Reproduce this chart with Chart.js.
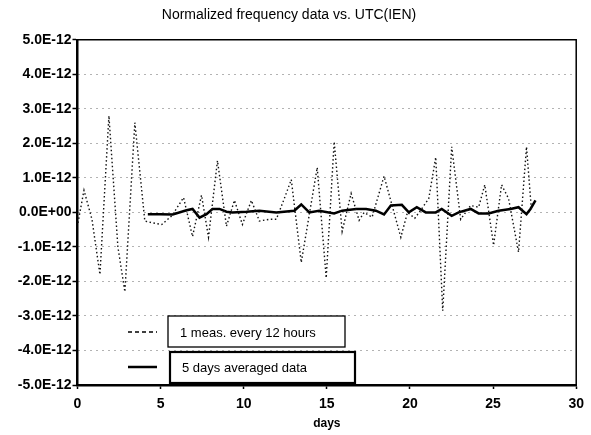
<!DOCTYPE html>
<html>
<head>
<meta charset="utf-8">
<script src="https://cdn.jsdelivr.net/npm/chart.js@4.4.0/dist/chart.umd.min.js"></script>
<style>
    html, body { margin: 0; padding: 0; background: #fff; }
    #wrap { width: 591px; height: 435px; }
</style>
</head>
<body>
<div id="wrap"><canvas id="freqChart" width="591" height="435"></canvas></div>
<script>
// values are in units of 1E-12
const measDays = [0.03, 0.39, 0.87, 1.35, 1.89, 2.43, 2.85, 3.45, 4.05, 4.47, 5.07, 5.67, 6.38, 6.92, 7.46, 7.88,
    8.42, 8.96, 9.44, 9.92, 10.46, 10.94, 11.54, 11.96, 12.44, 12.86, 13.46, 14.42, 14.96, 15.44, 15.92, 16.46,
    16.94, 17.24, 17.72, 18.44, 19.45, 19.85, 20.29, 20.7, 21.13, 21.55, 21.97, 22.51, 23.05, 23.65, 24.13, 24.5,
    25.03, 25.51, 25.93, 26.53, 27.01, 27.31];
const measValues = [-0.3, 0.64, -0.2, -1.8, 2.8, -1.0, -2.3, 2.6, -0.25, -0.3, -0.35, -0.1, 0.43, -0.7, 0.5, -0.72,
    1.5, -0.4, 0.35, -0.35, 0.35, -0.25, -0.2, -0.2, 0.4, 0.95, -1.45, 1.3, -1.9, 2.05, -0.55, 0.55,
    -0.23, 0.0, -0.14, 1.05, -0.72, 0.0, -0.17, 0.1, 0.4, 1.6, -2.85, 1.9, -0.2, 0.2, 0.15, 0.8,
    -0.95, 0.8, 0.4, -1.15, 1.9, 0.05];

const avgDays = [4.23, 4.95, 5.73, 6.56, 6.92, 7.34, 7.76, 8.12, 8.54, 8.96, 9.32, 10.16, 10.94, 11.96, 13.04, 13.46,
    13.94, 14.54, 15.44, 15.92, 16.76, 17.36, 17.95, 18.44, 18.85, 19.51, 19.93, 20.41, 20.95, 21.55, 21.91, 22.51,
    22.93, 23.65, 24.13, 24.73, 25.33, 26.05, 26.53, 27.01, 27.25, 27.55];
const avgValues = [-0.05, -0.05, -0.06, 0.06, 0.1, -0.15, -0.05, 0.1, 0.1, 0.02, 0.0, 0.02, 0.05, 0.0, 0.05, 0.23,
    0.0, 0.05, -0.03, 0.05, 0.1, 0.1, 0.05, -0.06, 0.2, 0.22, 0.0, 0.15, 0.0, 0.0, 0.1, -0.1,
    0.0, 0.1, -0.03, -0.03, 0.05, 0.1, 0.15, -0.05, 0.1, 0.35];

const seriesLabels = ["1 meas. every 12 hours", "5 days averaged data"];
const xTicks = [0, 5, 10, 15, 20, 25, 30];
const yTicks = [5, 4, 3, 2, 1, 0, -1, -2, -3, -4, -5];

const FONT = "'Liberation Sans', Arial, sans-serif";

function toPoints(xs, ys) {
    return xs.map(function (x, i) { return {x: x, y: ys[i]}; });
}

function formatE(v) {
    if (v === 0) return "0.0E+00";
    return v.toFixed(1) + "E-12";
}

// frame round the plot + boxed legend inside it
const framePlugin = {
    id: "frame",
    afterDatasetsDraw(chart) {
        const ctx = chart.ctx;
        const a = chart.chartArea;
        ctx.save();
        ctx.strokeStyle = "#000";
        ctx.lineWidth = 1.5;
        ctx.beginPath();
        ctx.moveTo(a.left, a.top);
        ctx.lineTo(a.right, a.top);
        ctx.lineTo(a.right, a.bottom);
        ctx.stroke();

        const rows = [
            {y: 332, box: [168, 316, 177, 31], dash: [4, 3], width: 1.3, bw: 1.3},
            {y: 367, box: [170, 352, 185, 31], dash: [], width: 2.5, bw: 2.2},
        ];
        ctx.font = "13px " + FONT;
        ctx.textBaseline = "middle";
        rows.forEach(function (r, i) {
            ctx.lineWidth = r.width;
            ctx.setLineDash(r.dash);
            ctx.beginPath();
            ctx.moveTo(128, r.y);
            ctx.lineTo(157, r.y);
            ctx.stroke();
            ctx.setLineDash([]);
            ctx.lineWidth = r.bw;
            ctx.fillStyle = "#fff";
            ctx.fillRect(r.box[0], r.box[1], r.box[2], r.box[3]);
            ctx.strokeRect(r.box[0], r.box[1], r.box[2], r.box[3]);
            ctx.fillStyle = "#000";
            ctx.fillText(chart.data.datasets[i].label, r.box[0] + 12, r.y + 1);
        });
        ctx.restore();
    }
};

document.addEventListener("DOMContentLoaded", function () {
    const ctx = document.getElementById("freqChart").getContext("2d");
    new Chart(ctx, {
        type: "line",
        data: {
            datasets: [
                {
                    label: seriesLabels[0],
                    data: toPoints(measDays, measValues),
                    borderColor: "#111",
                    borderWidth: 1.4,
                    borderDash: [1.5, 2.5],
                    pointRadius: 0,
                    tension: 0,
                },
                {
                    label: seriesLabels[1],
                    data: toPoints(avgDays, avgValues),
                    borderColor: "#000",
                    borderWidth: 2.5,
                    pointRadius: 0,
                    tension: 0,
                },
            ],
        },
        options: {
            responsive: false,
            animation: false,
            layout: {padding: {left: 0, right: 13, top: 0, bottom: 0}},
            plugins: {
                legend: {display: false},
                tooltip: {enabled: false},
                title: {
                    display: true,
                    text: "Normalized frequency data vs. UTC(IEN)",
                    color: "#000",
                    font: {family: FONT, size: 14, weight: "normal"},
                    padding: {top: 7, bottom: 16},
                },
            },
            scales: {
                x: {
                    type: "linear",
                    min: 0,
                    max: 30,
                    afterBuildTicks: function (s) {
                        s.ticks = xTicks.map(function (v) { return {value: v}; });
                    },
                    afterFit: function (s) { s.height = 50; },
                    grid: {drawOnChartArea: false, drawTicks: true, tickLength: 4, tickColor: "#000", tickWidth: 1.5},
                    border: {color: "#000", width: 2.5},
                    ticks: {color: "#000", padding: 7, maxRotation: 0, font: {family: FONT, size: 14, weight: "bold"}},
                    title: {
                        display: true,
                        text: "days",
                        color: "#000",
                        font: {family: FONT, size: 12, weight: "bold"},
                        padding: {top: 0, bottom: 4},
                    },
                },
                y: {
                    min: -5,
                    max: 5,
                    afterBuildTicks: function (s) {
                        s.ticks = yTicks.map(function (v) { return {value: v}; });
                    },
                    afterFit: function (s) { s.width = 77.5; },
                    grid: {
                        color: function (c) {
                            return (c.tick && Math.abs(c.tick.value) === 5) ? "rgba(0,0,0,0)" : "#666";
                        },
                        lineWidth: 1,
                        tickLength: 5,
                        tickColor: "#000",
                        tickWidth: 1.5,
                    },
                    border: {color: "#000", width: 2.5, dash: [1, 5]},
                    ticks: {
                        color: "#000",
                        padding: 1,
                        font: {family: FONT, size: 14, weight: "bold"},
                        callback: function (v) { return formatE(v); },
                    },
                },
            },
        },
        plugins: [framePlugin],
    });
});
</script>
</body>
</html>
